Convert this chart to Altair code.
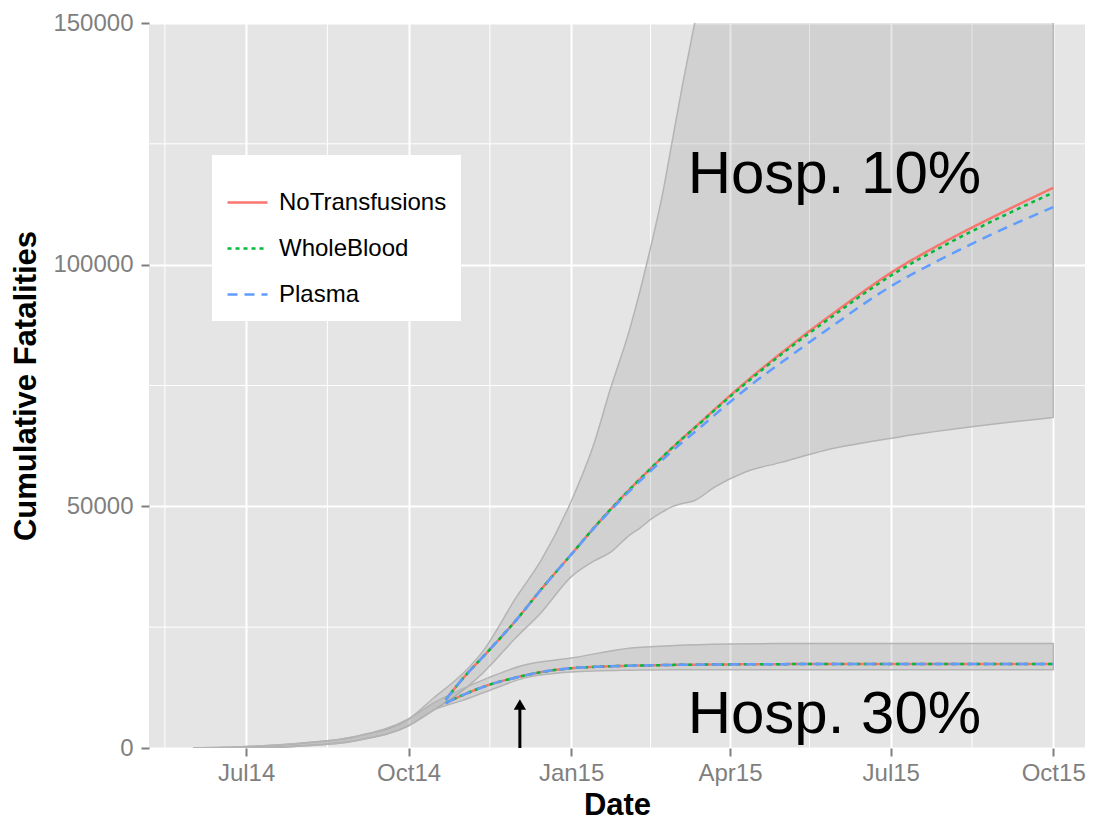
import altair as alt
import pandas as pd

# ---------------- data ----------------
series_names = ["NoTransfusions", "WholeBlood", "Plasma"]
series_colors = ["#F8766D", "#00BA38", "#619CFF"]
series_dashes = [[1, 0], [4, 4], [10, 7]]

line_dates = ["2014-10-22", "2014-11-01", "2014-11-15", "2014-12-01", "2014-12-15",
              "2015-01-01", "2015-01-15", "2015-02-01", "2015-02-15", "2015-03-01",
              "2015-03-15", "2015-04-01", "2015-04-15", "2015-05-01", "2015-05-15",
              "2015-06-01", "2015-06-15", "2015-07-01", "2015-08-01", "2015-09-01",
              "2015-10-01"]

h10_notrans = [10000, 14500, 20000, 26500, 32800, 40000, 46000, 52700, 57800, 62700,
               67300, 72900, 77300, 82000, 86000, 90600, 94300, 98300, 104800, 110600,
               115900]
h10_wholeblood = [10000, 14500, 20000, 26500, 32800, 40000, 46000, 52700, 57800, 62700,
                  67200, 72700, 77000, 81700, 85600, 90100, 93800, 97700, 104100, 109800,
                  114900]
h10_plasma = [10000, 14500, 20000, 26500, 32800, 40000, 45900, 52400, 57300, 62000,
              66300, 71600, 75700, 80000, 83700, 88100, 91700, 95500, 101600, 107100,
              111900]

h30_notrans = [9300, 11000, 13000, 14600, 15700, 16500, 16800, 17000, 17100, 17200,
               17250, 17300, 17350, 17350, 17400, 17400, 17400, 17400, 17400, 17400,
               17400]
h30_wholeblood = [9300, 11000, 13000, 14600, 15700, 16500, 16800, 17000, 17100, 17200,
                  17250, 17300, 17350, 17350, 17400, 17400, 17400, 17400, 17400, 17400,
                  17400]
h30_plasma = [9300, 11000, 13000, 14600, 15700, 16500, 16800, 17000, 17100, 17200,
              17250, 17300, 17350, 17350, 17400, 17400, 17400, 17400, 17400, 17400,
              17400]

band10_dates = ["2014-06-01", "2014-07-01", "2014-08-01", "2014-09-01", "2014-10-01",
                "2014-10-15", "2014-11-01", "2014-11-12", "2014-12-01", "2014-12-15",
                "2015-01-01", "2015-01-14", "2015-01-23", "2015-02-03", "2015-02-09",
                "2015-02-14", "2015-02-22", "2015-02-27", "2015-03-05", "2015-03-12",
                "2015-03-23", "2015-04-09", "2015-04-30", "2015-05-25", "2015-07-05",
                "2015-10-01"]
band10_hi = [0, 300, 1000, 2400, 6000, 10300, 15500, 20000, 31200, 38800,
             51000, 63000, 74000, 86400, 94500, 102000, 115000, 125000, 137000, 150000,
             170000, 195000, 220000, 245000, 275000, 320000]
band10_lo = [0, 0, 400, 1500, 4600, 7800, 12000, 15500, 22900, 28000,
             35400, 38700, 40400, 44000, 45500, 47000, 48900, 49900, 50600, 51200,
             53900, 57000, 59100, 61600, 64300, 68400]

band30_dates = ["2014-06-01", "2014-07-01", "2014-08-01", "2014-09-01", "2014-10-01",
                "2014-10-15", "2014-11-01", "2014-11-15", "2014-12-04", "2015-01-01",
                "2015-02-04", "2015-03-01", "2015-04-01", "2015-05-01", "2015-10-01"]
band30_hi = [0, 300, 1000, 2400, 6000, 9300, 12300, 14500, 17000, 18600,
             20700, 21200, 21500, 21600, 21600]
band30_lo = [0, 0, 400, 1500, 4600, 7800, 9900, 11800, 14300, 15700,
             16100, 16200, 16200, 16200, 16200]

minor_dates = ["2014-05-16", "2014-08-16", "2014-11-16", "2015-02-15", "2015-05-16", "2015-08-16"]
minor_values = [25000, 75000, 125000]
y_ticks = [0, 50000, 100000, 150000]
x_tick_months = [(2014, 7), (2014, 10), (2015, 1), (2015, 4), (2015, 7), (2015, 10)]

ann_labels = ["Hosp. 10%", "Hosp. 30%"]
ann_dates = ["2015-03-08", "2015-03-08"]
ann_values = [114900, 3100]

arrow_date = ["2014-12-03"]
arrow_from = [0]
arrow_to = [9000]

# ---------------- tables ----------------
rows = []
for scen, arrs in [("Hosp10", [h10_notrans, h10_wholeblood, h10_plasma]),
                   ("Hosp30", [h30_notrans, h30_wholeblood, h30_plasma])]:
    for k, (name, vals) in enumerate(zip(series_names, arrs)):
        for d, v in zip(line_dates, vals):
            rows.append({"date": d, "value": v, "series": name, "scenario": scen, "ord": k})
lines_df = pd.DataFrame(rows)

band_rows = []
for scen, ds, lo, hi in [("Hosp10", band10_dates, band10_lo, band10_hi),
                         ("Hosp30", band30_dates, band30_lo, band30_hi)]:
    for d, a, b in zip(ds, lo, hi):
        band_rows.append({"date": d, "value": a, "hi": b, "scenario": scen})
band_df = pd.DataFrame(band_rows)

minor_x_df = pd.DataFrame({"date": minor_dates})
minor_y_df = pd.DataFrame({"value": minor_values})
ann_df = pd.DataFrame({"date": ann_dates, "value": ann_values, "label": ann_labels})
arrow_df = pd.DataFrame({"date": arrow_date, "value": arrow_from, "top": arrow_to})

FONT = "Liberation Sans"

x_scale = alt.Scale(type="utc",
                    domain=[alt.DateTime(year=2014, month=5, date=7, utc=True),
                            alt.DateTime(year=2015, month=10, date=19, utc=True)])
y_scale = alt.Scale(domain=[0, 150000], nice=False, zero=False)

x_axis = alt.Axis(values=[alt.DateTime(year=y, month=m, date=1, utc=True) for y, m in x_tick_months],
                  format="%b%y", title="Date", labelPadding=5, titlePadding=5)
y_axis = alt.Axis(values=y_ticks, format="d", title="Cumulative Fatalities",
                  labelPadding=8, titlePadding=10)


def X(field="date"):
    return alt.X(f"{field}:T", scale=x_scale, axis=x_axis)


def Y(field="value"):
    return alt.Y(f"{field}:Q", scale=y_scale, axis=y_axis)


minor_x = alt.Chart(minor_x_df).mark_rule(color="white", strokeWidth=1).encode(x=X())
minor_y = alt.Chart(minor_y_df).mark_rule(color="white", strokeWidth=1).encode(y=Y())

bands = alt.Chart(band_df).mark_area(
    fill="#808080", fillOpacity=0.2, stroke="#B4B4B4", strokeWidth=1.5, clip=True,
    interpolate="monotone"
).encode(x=X(), y=Y(), y2="hi:Q", detail="scenario:N")

legend = alt.Legend(title=" ", titleFontSize=10, titlePadding=2,
                    orient="none", legendX=63, legendY=132,
                    fillColor="white", padding=14, symbolType="stroke",
                    symbolSize=1600, symbolStrokeWidth=2.5,
                    labelFont=FONT, labelFontSize=24, labelColor="black",
                    labelOffset=10, rowPadding=12, labelLimit=0)

lines = alt.Chart(lines_df).mark_line(strokeWidth=2.5, clip=True, interpolate="monotone").encode(
    x=X(), y=Y(),
    color=alt.Color("series:N", scale=alt.Scale(domain=series_names, range=series_colors),
                    legend=legend),
    strokeDash=alt.StrokeDash("series:N", scale=alt.Scale(domain=series_names, range=series_dashes),
                              legend=legend),
    detail="scenario:N",
    order="ord:Q",
)

texts = alt.Chart(ann_df).mark_text(
    align="left", baseline="alphabetic", fontSize=60, font=FONT, color="black"
).encode(x=X(), y=Y(), text="label:N")

arrow_shaft = alt.Chart(arrow_df).mark_rule(color="black", strokeWidth=3).encode(
    x=X(), y=Y(), y2="top:Q")
arrow_head = alt.Chart(arrow_df).mark_point(
    shape="triangle-up", filled=True, size=150, color="black", opacity=1
).encode(x=X(), y=Y("top"))

chart = alt.layer(minor_x, minor_y, bands, lines, texts, arrow_shaft, arrow_head).properties(
    width=936, height=725,
    padding={"left": 2, "top": 3, "right": 0, "bottom": 0},
    background="white",
).configure_view(fill="#E5E5E5", stroke=None).configure_axis(
    domain=False, tickColor="#7F7F7F", tickWidth=2, tickSize=8,
    labelColor="#7F7F7F", labelFontSize=24, labelFont=FONT,
    titleFont=FONT, titleFontSize=31, titleFontWeight="bold", titleColor="black",
    gridColor="white", gridWidth=2,
)

chart.save("out.html", embed_options={"renderer": "svg", "actions": False})
